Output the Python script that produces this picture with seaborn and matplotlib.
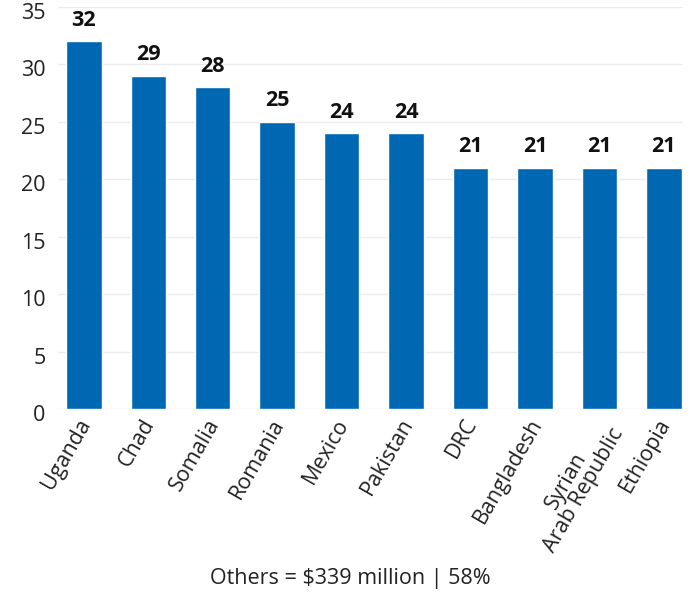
import matplotlib
matplotlib.use("Agg")
import matplotlib.pyplot as plt
import matplotlib.transforms as mtransforms
import seaborn as sns
import pandas as pd

# data
countries = ["Uganda", "Chad", "Somalia", "Romania", "Mexico", "Pakistan",
             "DRC", "Bangladesh", "Syrian\nArab Republic", "Ethiopia"]
values = [32, 29, 28, 25, 24, 24, 21, 21, 21, 21]
yticks = [0, 5, 10, 15, 20, 25, 30, 35]
footer = "Others = $339 million | 58%"

df = pd.DataFrame({"country": countries, "value": values})

sns.set_style("white")
plt.rcParams["font.family"] = ["Open Sans", "DejaVu Sans"]

fig = plt.figure(figsize=(7, 5.99), dpi=100)
ax = fig.add_axes([0.083, 0.317, 0.893, 0.672])

sns.barplot(data=df, x="country", y="value", color="#0068b3", width=0.55,
            saturation=1, ax=ax)

for i, v in enumerate(values):
    ax.text(i, v + 0.9, str(v), ha="center", va="bottom",
            fontsize=15.5, fontweight="bold", color="#111111")

ax.set_ylim(0, 35)
ax.set_xlim(-0.4, 9.3)
ax.set_yticks(yticks)
ax.yaxis.grid(True, color="#ececec", linewidth=1)
ax.set_axisbelow(True)
for s in ax.spines.values():
    s.set_visible(False)
ax.tick_params(axis="both", length=0, labelsize=15.5, colors="#222222")
ax.tick_params(axis="y", pad=9)
ax.tick_params(axis="x", pad=4)
ax.set_xticks(range(len(countries)))
ax.set_xticklabels(countries, rotation=60, ha="right", rotation_mode="anchor",
                   multialignment="center", linespacing=0.95)
ax.set_xlabel("")
ax.set_ylabel("")

# y labels sit a little below their gridlines, x labels a bit to the left
dy = mtransforms.ScaledTranslation(0, -0.04, fig.dpi_scale_trans)
for lab in ax.get_yticklabels():
    lab.set_transform(lab.get_transform() + dy)
dx = mtransforms.ScaledTranslation(-0.07, 0, fig.dpi_scale_trans)
for lab in ax.get_xticklabels():
    lab.set_transform(lab.get_transform() + dx)

fig.text(0.5, 0.035, footer, ha="center", va="center", fontsize=15.5,
         color="#222222")

fig.savefig("out.png", dpi=100)
